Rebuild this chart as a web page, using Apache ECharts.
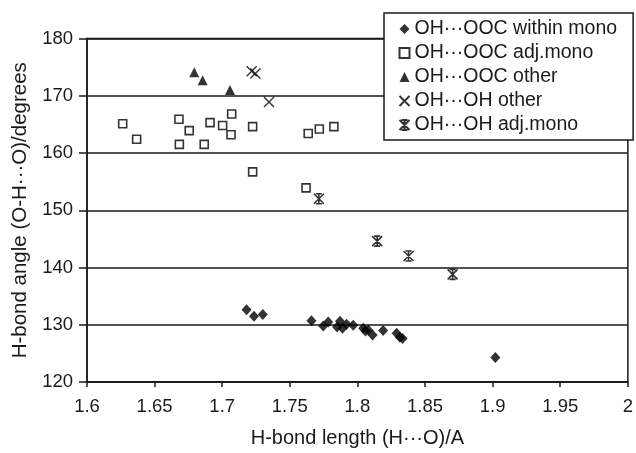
<!DOCTYPE html>
<html>
<head>
<meta charset="utf-8">
<script src="https://cdn.jsdelivr.net/npm/echarts@6/dist/echarts.min.js"></script>
<style>
html,body{margin:0;padding:0;background:#fff;}
#chart{width:636px;height:453px;}
</style>
</head>
<body>
<div id="chart"></div>
<script>
// Series names
const seriesNames = ['OH\u00b7\u00b7\u00b7OOC within mono', 'OH\u00b7\u00b7\u00b7OOC adj.mono', 'OH\u00b7\u00b7\u00b7OOC other', 'OH\u00b7\u00b7\u00b7OH other', 'OH\u00b7\u00b7\u00b7OH adj.mono'];

// [H-bond length, H-bond angle]
const withinMono = [
  [1.718, 132.6], [1.7235, 131.5], [1.730, 131.8],
  [1.766, 130.7], [1.7747, 129.8], [1.7784, 130.5], [1.7871, 130.6],
  [1.789, 129.4], [1.792, 130.1], [1.7969, 129.9], [1.785, 129.6],
  [1.8043, 129.4], [1.808, 129.1], [1.8112, 128.2], [1.806, 128.9],
  [1.819, 129.0], [1.829, 128.5], [1.8314, 127.8], [1.8334, 127.6],
  [1.902, 124.3]
];
const adjMonoOOC = [
  [1.6264, 165.1], [1.6367, 162.4], [1.668, 165.9], [1.6756, 163.9],
  [1.6683, 161.5], [1.691, 165.3], [1.6867, 161.5], [1.7003, 164.8],
  [1.707, 166.8], [1.7065, 163.2], [1.7225, 164.6], [1.7225, 156.7],
  [1.7636, 163.4], [1.7718, 164.2], [1.7826, 164.6], [1.762, 153.9]
];
const otherOOC = [[1.6793, 174.1], [1.6855, 172.7], [1.7057, 171.0]];
const otherOH = [[1.7218, 174.3], [1.7245, 173.9], [1.7346, 168.9]];
const adjMonoOH = [[1.7715, 152.0], [1.8146, 144.6], [1.8378, 142.0], [1.8704, 138.8]];

const xTicks = {min: 1.6, max: 2, interval: 0.05};
const yTicks = {min: 120, max: 180, interval: 10};

const crossPath = 'path://M0 0L10 10M10 0L0 10';
const starPath = 'path://M0 0L10 10M10 0L0 10M5 0L5 10M2 0L8 0M2 10L8 10';
const ink = '#1a1a1a';
const font = 'Liberation Sans, Arial, sans-serif';

const chart = echarts.init(document.getElementById('chart'), null, {renderer: 'canvas'});
chart.setOption({
  animation: false,
  backgroundColor: '#fff',
  textStyle: {fontFamily: font, color: ink},
  grid: {left: 87, right: 8, top: 38.5, bottom: 68, show: true, borderColor: ink, borderWidth: 1.5},
  legend: {
    orient: 'vertical', left: 384, top: 13,
    padding: [6, 16, 5, 13],
    itemGap: 4, itemWidth: 10, itemHeight: 10, itemTextGap: 10,
    backgroundColor: '#fff', borderColor: ink, borderWidth: 1.5,
    textStyle: {fontSize: 19.5, color: ink, fontFamily: font},
    data: seriesNames
  },
  xAxis: {
    type: 'value', min: xTicks.min, max: xTicks.max, interval: xTicks.interval,
    name: 'H-bond length (H\u00b7\u00b7\u00b7O)/A', nameLocation: 'middle', nameGap: 46,
    nameTextStyle: {fontSize: 20, color: ink, fontFamily: font},
    axisLine: {show: true, lineStyle: {color: ink, width: 1.5}},
    axisTick: {show: true, length: 5, lineStyle: {color: ink, width: 1.5}},
    axisLabel: {fontSize: 18.5, color: ink, margin: 15, fontFamily: font},
    splitLine: {show: false}
  },
  yAxis: {
    type: 'value', min: yTicks.min, max: yTicks.max, interval: yTicks.interval,
    name: 'H-bond angle (O-H\u00b7\u00b7\u00b7O)/degrees', nameLocation: 'middle', nameGap: 56,
    nameTextStyle: {fontSize: 20.5, color: ink, fontFamily: font},
    axisLine: {show: true, lineStyle: {color: ink, width: 1.5}},
    axisTick: {show: true, inside: false, length: 8, lineStyle: {color: ink, width: 1.5}},
    axisLabel: {fontSize: 18.5, color: ink, margin: 14, fontFamily: font},
    splitLine: {show: true, lineStyle: {color: ink, width: 1.5}}
  },
  series: [
    {name: seriesNames[0], type: 'scatter', data: withinMono, symbol: 'diamond', symbolSize: [10, 11],
     itemStyle: {color: '#000'}},
    {name: seriesNames[1], type: 'scatter', data: adjMonoOOC, symbol: 'rect', symbolSize: 8,
     itemStyle: {color: '#fff', borderColor: '#000', borderWidth: 1.6}},
    {name: seriesNames[2], type: 'scatter', data: otherOOC, symbol: 'triangle', symbolSize: 10,
     itemStyle: {color: '#000'}},
    {name: seriesNames[3], type: 'scatter', data: otherOH, symbol: crossPath, symbolSize: 10,
     itemStyle: {color: 'none', borderColor: '#000', borderWidth: 1.4}},
    {name: seriesNames[4], type: 'scatter', data: adjMonoOH, symbol: starPath, symbolSize: 10,
     itemStyle: {color: 'none', borderColor: '#000', borderWidth: 1.6}}
  ]
});
</script>
</body>
</html>
